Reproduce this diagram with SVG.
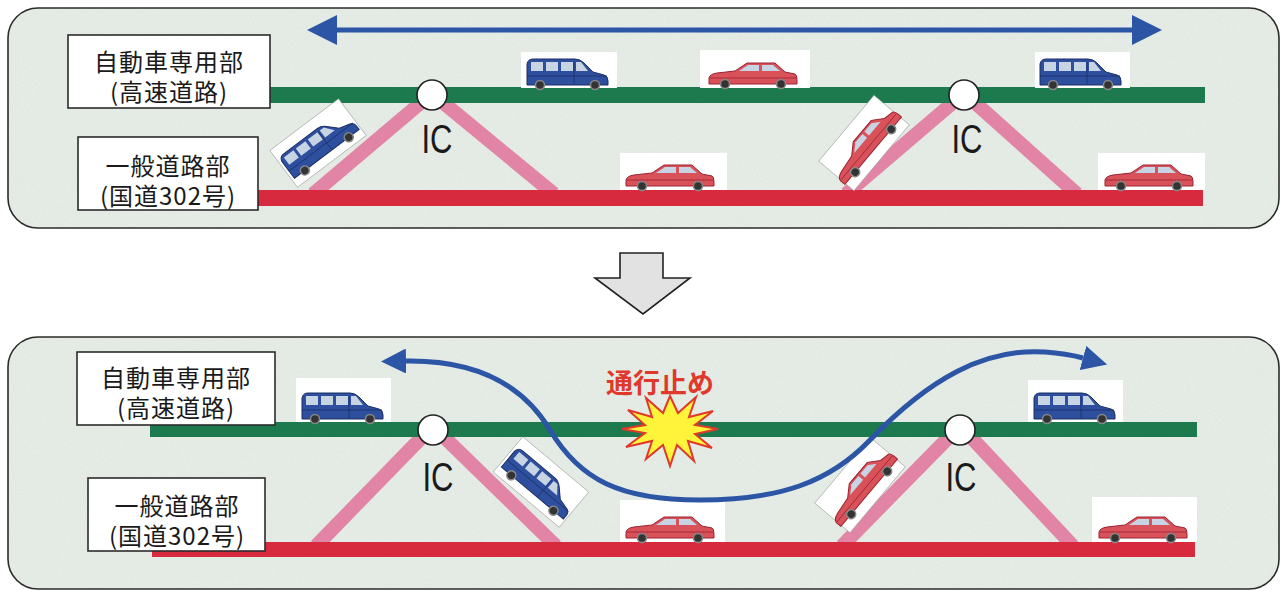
<svg xmlns="http://www.w3.org/2000/svg" xmlns:xlink="http://www.w3.org/1999/xlink" width="1287" height="592" viewBox="0 0 1287 592">
  <style>
    .panel { fill: #e2e9e2; stroke: #2b2b2b; stroke-width: 1.6; }
    .label-box { fill: #ffffff; stroke: #2b2b2b; stroke-width: 1.6; }
    .label { font-family: "Noto Sans CJK JP", "Noto Sans", sans-serif; font-size: 24px; letter-spacing: 1px; fill: #1a1a1a; text-anchor: middle; }
    .expressway { fill: #1c7a4e; }
    .ordinary { fill: #d72a3e; }
    .ramp { stroke: #e284a6; stroke-width: 14; fill: none; }
    .ic-node { fill: #ffffff; stroke: #222; stroke-width: 1.6; }
    .ic-label { font-family: "Liberation Sans", Arial, sans-serif; font-size: 40px; fill: #1a1a1a; text-anchor: middle; }
    .route { stroke: #2c55a6; stroke-width: 5; fill: none; }
    .car-bg { fill: #ffffff; }
    .van-body { fill: #2d4f9e; stroke: #1c2f66; stroke-width: 1; }
    .sedan-body { fill: #d9525a; stroke: #9a2230; stroke-width: 1; }
    .glass { fill: #c7d4e4; }
    .wheel { fill: #333; stroke: #888; stroke-width: 1.5; }
    .closed-text { font-family: "Noto Sans CJK JP", sans-serif; font-size: 27px; font-weight: bold; fill: #e0392b; text-anchor: middle; }
  </style>
  <defs>
    <marker id="head" viewBox="0 0 10 10" refX="0" refY="5" markerUnits="strokeWidth" markerWidth="6" markerHeight="6" orient="auto-start-reverse">
      <path d="M0,0 L10,5 L0,10 Z" fill="#2c55a6"/>
    </marker>
    <marker id="head-small" viewBox="0 0 10 10" refX="0" refY="5" markerUnits="strokeWidth" markerWidth="5" markerHeight="5" orient="auto-start-reverse">
      <path d="M0,0 L10,5 L0,10 Z" fill="#2c55a6"/>
    </marker>
    <filter id="grain" x="0" y="0" width="100%" height="100%">
      <feTurbulence type="fractalNoise" baseFrequency="0.9" numOctaves="2" seed="4" result="n"/>
      <feColorMatrix in="n" type="matrix" values="0 0 0 0 1  0 0 0 0 1  0 0 0 0 1  0 0 0 -1.6 1.05"/>
      <feComposite in2="SourceGraphic" operator="in"/>
    </filter>
    <!-- van, origin at centre of the wheel line, facing right -->
    <g id="van">
      <path class="van-body" d="M-40,-4 L-40,-24 Q-39,-29 -34,-29 L8,-29 Q13,-29 17,-25 L26,-16 L37,-13 Q41,-12 41,-7 L41,-3 L-40,-3 Z"/>
      <rect class="glass" x="-36" y="-26" width="12" height="9"/>
      <rect class="glass" x="-21" y="-26" width="12" height="9"/>
      <rect class="glass" x="-6" y="-26" width="12" height="9"/>
      <path class="glass" d="M9,-26 L14,-26 L21,-17 L9,-17 Z"/>
      <path d="M-40,-12 L40,-12 M7,-26 L7,-4" stroke="#1c2f66" stroke-width="0.8"/>
      <circle class="wheel" cx="-27" cy="-3" r="4.5"/>
      <circle class="wheel" cx="28" cy="-3" r="4.5"/>
    </g>
    <!-- sedan, origin at centre of the wheel line -->
    <g id="sedan">
      <path class="sedan-body" d="M-44,-4 L-44,-10 Q-43,-14 -36,-15 L-18,-17 L-6,-25 L22,-25 L32,-16 L42,-14 Q44,-13 44,-8 L44,-4 Z"/>
      <path class="glass" d="M-14,-17 L-5,-23 L6,-23 L6,-17 Z"/>
      <path class="glass" d="M9,-23 L20,-23 L27,-17 L9,-17 Z"/>
      <path d="M-43,-10 L43,-10" stroke="#9a2230" stroke-width="0.8"/>
      <circle class="wheel" cx="-28" cy="-4" r="4.5"/>
      <circle class="wheel" cx="28" cy="-4" r="4.5"/>
    </g>
  </defs>

  <rect width="1287" height="592" fill="#ffffff"/>

  <!-- ===== before: normal operation ===== -->
  <g id="panel-before">
    <rect class="panel" x="8" y="8" width="1271" height="220" rx="30"/>
    <rect x="9" y="9" width="1269" height="218" rx="29" fill="#ffffff" opacity="0.25" filter="url(#grain)"/>
  </g>

  <g id="ramps-before">
    <line class="ramp" x1="424" y1="100" x2="313" y2="194"/>
    <line class="ramp" x1="440" y1="100" x2="554" y2="194"/>
    <line class="ramp" x1="956" y1="100" x2="846" y2="194"/>
    <line class="ramp" x1="972" y1="100" x2="1077" y2="194"/>
  </g>
  <g id="expressway-before"><rect class="expressway" x="270" y="87" width="935" height="16"/></g>
  <g id="ordinary-before"><rect class="ordinary" x="258" y="190" width="945" height="16"/></g>

  <g id="ic-before-1">
    <circle class="ic-node" cx="432" cy="95" r="15"/>
    <text class="ic-label" x="437" y="153" textLength="31" lengthAdjust="spacingAndGlyphs">IC</text>
  </g>
  <g id="ic-before-2">
    <circle class="ic-node" cx="964" cy="95" r="15"/>
    <text class="ic-label" x="967" y="153" textLength="31" lengthAdjust="spacingAndGlyphs">IC</text>
  </g>

  <g id="label-expressway-before">
    <rect class="label-box" x="68" y="35" width="202" height="73"/>
    <text class="label" x="169" y="71">自動車専用部<tspan x="169" dy="30">(高速道路)</tspan></text>
  </g>
  <g id="label-ordinary-before">
    <rect class="label-box" x="78" y="137" width="180" height="73"/>
    <text class="label" x="168" y="175">一般道路部<tspan x="168" dy="30">(国道302号)</tspan></text>
  </g>

  <g id="cars-before">
    <rect class="car-bg" x="521" y="52" width="96" height="36"/>
    <use xlink:href="#van" href="#van" x="567" y="88"/>
    <rect class="car-bg" x="700" y="50" width="110" height="38"/>
    <use xlink:href="#sedan" href="#sedan" x="753" y="88"/>
    <rect class="car-bg" x="1035" y="52" width="95" height="36"/>
    <use xlink:href="#van" href="#van" x="1080" y="88"/>
    <rect class="car-bg" x="620" y="153" width="107" height="37"/>
    <use xlink:href="#sedan" href="#sedan" x="670" y="190"/>
    <rect class="car-bg" x="1098" y="153" width="107" height="37"/>
    <use xlink:href="#sedan" href="#sedan" x="1149" y="190"/>
    <g transform="translate(318,143) rotate(-37)">
      <rect class="car-bg" x="-43" y="-23" width="86" height="46" stroke="#999" stroke-width="0.6"/>
      <use xlink:href="#van" href="#van" x="0" y="17"/>
    </g>
    <g transform="translate(864,143) rotate(-50)">
      <rect class="car-bg" x="-43" y="-23" width="86" height="46" stroke="#999" stroke-width="0.6"/>
      <use xlink:href="#sedan" href="#sedan" x="0" y="16"/>
    </g>
  </g>

  <!-- ===== transition arrow ===== -->
  <g id="transition-arrow">
    <path d="M620,253 L663,253 L663,278 L690,278 L643,314 L595,278 L620,278 Z" fill="#e2e2e2" stroke="#222" stroke-width="1.6" stroke-linejoin="miter"/>
  </g>

  <!-- ===== after: expressway closed ===== -->
  <g id="panel-after">
    <rect class="panel" x="8" y="337" width="1271" height="252" rx="30"/>
    <rect x="9" y="338" width="1269" height="250" rx="29" fill="#ffffff" opacity="0.25" filter="url(#grain)"/>
  </g>

  <g id="ramps-after">
    <line class="ramp" x1="425" y1="434" x2="316" y2="546"/>
    <line class="ramp" x1="441" y1="434" x2="556" y2="546"/>
    <line class="ramp" x1="952" y1="434" x2="842" y2="546"/>
    <line class="ramp" x1="968" y1="434" x2="1073" y2="546"/>
  </g>
  <g id="expressway-after"><rect class="expressway" x="150" y="422" width="1047" height="15"/></g>
  <g id="ordinary-after"><rect class="ordinary" x="152" y="542" width="1043" height="15"/></g>

  <g id="ic-after-1">
    <circle class="ic-node" cx="433" cy="430" r="15"/>
    <text class="ic-label" x="438" y="491" textLength="31" lengthAdjust="spacingAndGlyphs">IC</text>
  </g>
  <g id="ic-after-2">
    <circle class="ic-node" cx="960" cy="430" r="15"/>
    <text class="ic-label" x="961" y="491" textLength="31" lengthAdjust="spacingAndGlyphs">IC</text>
  </g>

  <g id="label-expressway-after">
    <rect class="label-box" x="77" y="352" width="198" height="73"/>
    <text class="label" x="176" y="387">自動車専用部<tspan x="176" dy="30">(高速道路)</tspan></text>
  </g>
  <g id="label-ordinary-after">
    <rect class="label-box" x="88" y="478" width="177" height="73"/>
    <text class="label" x="177" y="515">一般道路部<tspan x="177" dy="30">(国道302号)</tspan></text>
  </g>

  <g id="cars-after">
    <rect class="car-bg" x="296" y="378" width="95" height="44"/>
    <use xlink:href="#van" href="#van" x="342" y="422"/>
    <rect class="car-bg" x="620" y="500" width="105" height="42"/>
    <use xlink:href="#sedan" href="#sedan" x="670" y="542"/>
    <rect class="car-bg" x="1028" y="380" width="95" height="42"/>
    <use xlink:href="#van" href="#van" x="1074" y="422"/>
    <rect class="car-bg" x="1092" y="497" width="105" height="45"/>
    <use xlink:href="#sedan" href="#sedan" x="1143" y="542"/>
    <g transform="translate(541,482) rotate(40)">
      <rect class="car-bg" x="-43" y="-23" width="86" height="46" stroke="#999" stroke-width="0.6"/>
      <use xlink:href="#van" href="#van" x="0" y="17"/>
    </g>
    <g transform="translate(860,485) rotate(-50)">
      <rect class="car-bg" x="-43" y="-23" width="86" height="46" stroke="#999" stroke-width="0.6"/>
      <use xlink:href="#sedan" href="#sedan" x="0" y="16"/>
    </g>
  </g>

  <g id="closure">
    <polygon points="670,396 678,413 696,397 689,417 713,411 695,425 718,429 695,434 712,448 688,441 694,461 677,445 670,466 663,445 646,459 652,441 626,447 645,433 622,429 645,425 628,410 652,417 646,398 663,413" fill="#fff43a" stroke="#e0392b" stroke-width="2" stroke-linejoin="miter"/>
    <text class="closed-text" x="660" y="393">通行止め</text>
  </g>

  <!-- traffic flow connectors -->
  <g id="connectors">
    <line class="route" x1="337" y1="30" x2="1132" y2="30" marker-start="url(#head)" marker-end="url(#head)"/>
    <path class="route" d="M406,361 C470,360 520,380 550,430 C580,480 620,500 700,500 C780,500 830,482 870,440 C930,378 985,348 1045,352 C1060,353 1072,355 1083,358" marker-start="url(#head-small)" marker-end="url(#head-small)"/>
  </g>
</svg>
